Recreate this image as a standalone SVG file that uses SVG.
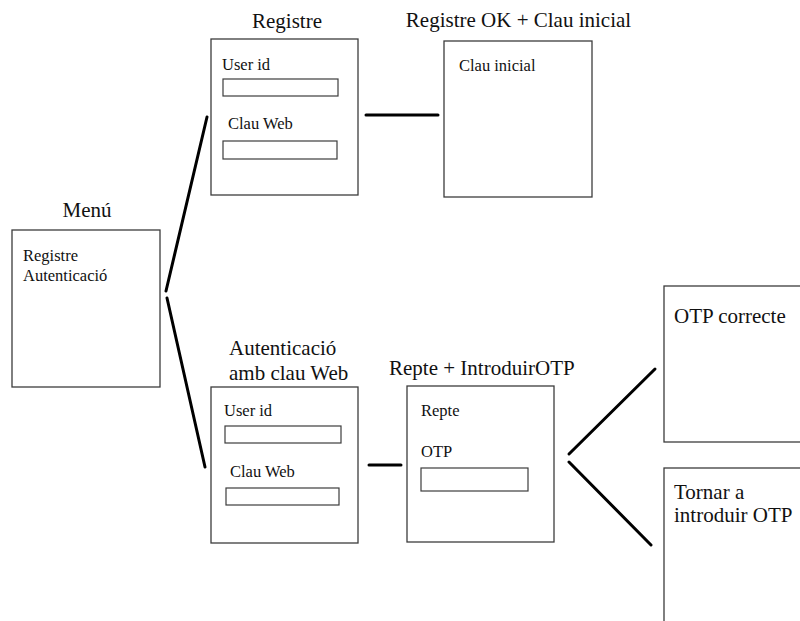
<svg xmlns="http://www.w3.org/2000/svg" width="800" height="621" viewBox="0 0 800 621">
  <style>
    .box { fill: #ffffff; stroke: #3c3c3c; stroke-width: 1.3; }
    .field { fill: #ffffff; stroke: #3c3c3c; stroke-width: 1.2; }
    text { font-family: 'Liberation Serif', 'Times New Roman', Tinos, 'DejaVu Serif', serif; fill: #111; }
    .title { font-size: 21px; }
    .label { font-size: 16.5px; }
    .big { font-size: 21px; }
    .link { stroke: #000; stroke-width: 3; stroke-linecap: round; fill: none; }
  </style>
  <rect width="800" height="621" fill="#ffffff"/>

  <!-- connectors -->
  <g id="connectors">
    <line class="link" x1="166" y1="291" x2="207" y2="117"/>
    <line class="link" x1="167" y1="298" x2="205" y2="467"/>
    <line class="link" x1="366" y1="115" x2="438" y2="115"/>
    <line class="link" x1="369" y1="465" x2="401" y2="465"/>
    <line class="link" x1="569" y1="454" x2="655" y2="369"/>
    <line class="link" x1="569" y1="462" x2="651" y2="545"/>
  </g>

  <!-- menu screen -->
  <g id="menu">
    <text class="title" x="87" y="217" text-anchor="middle">Menú</text>
    <rect class="box" x="12" y="230" width="148" height="157"/>
    <text class="label" x="23" y="261">Registre</text>
    <text class="label" x="23" y="281">Autenticació</text>
  </g>

  <!-- registration form -->
  <g id="registre">
    <text class="title" x="287" y="28" text-anchor="middle">Registre</text>
    <rect class="box" x="211" y="39" width="147" height="156"/>
    <text class="label" x="222" y="70">User id</text>
    <rect class="field" x="223" y="79" width="115" height="17"/>
    <text class="label" x="228" y="129">Clau Web</text>
    <rect class="field" x="223" y="141" width="114" height="18"/>
  </g>

  <!-- registration result -->
  <g id="registre-ok">
    <text class="title" x="518.5" y="27" text-anchor="middle">Registre OK + Clau inicial</text>
    <rect class="box" x="444" y="41" width="148" height="156"/>
    <text class="label" x="459" y="71">Clau inicial</text>
  </g>

  <!-- web password login -->
  <g id="autenticacio">
    <text class="title" x="229" y="355">Autenticació</text>
    <text class="title" x="229" y="380">amb clau Web</text>
    <rect class="box" x="211" y="387" width="147" height="156"/>
    <text class="label" x="224" y="416">User id</text>
    <rect class="field" x="225" y="426" width="116" height="17"/>
    <text class="label" x="230" y="477">Clau Web</text>
    <rect class="field" x="226" y="488" width="113" height="17"/>
  </g>

  <!-- challenge and OTP entry -->
  <g id="repte">
    <text class="title" x="389" y="375">Repte + IntroduirOTP</text>
    <rect class="box" x="407" y="386" width="147" height="156"/>
    <text class="label" x="421" y="416">Repte</text>
    <text class="label" x="421" y="457">OTP</text>
    <rect class="field" x="421" y="468" width="107" height="23"/>
  </g>

  <!-- OTP accepted -->
  <g id="otp-correcte">
    <rect class="box" x="664" y="286" width="160" height="156"/>
    <text class="big" x="674" y="323">OTP correcte</text>
  </g>

  <!-- OTP retry -->
  <g id="tornar">
    <rect class="box" x="664" y="468" width="160" height="180"/>
    <text class="big" x="674" y="499">Tornar a</text>
    <text class="big" x="674" y="522">introduir OTP</text>
  </g>
</svg>
